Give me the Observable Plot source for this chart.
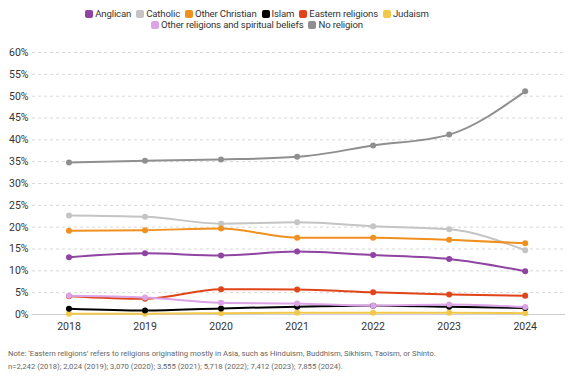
<!DOCTYPE html>
<html><head><meta charset="utf-8">
<script src="https://cdn.jsdelivr.net/npm/d3@7"></script>
<script src="https://cdn.jsdelivr.net/npm/@observablehq/plot@0.6"></script>
<style>
body{margin:0;background:#fff;font-family:Roboto,"Noto Sans",sans-serif;}
#wrap{width:574px;}
.legend{width:514px;height:34px;box-sizing:border-box;padding-top:8px;font-size:9.6px;color:#333;line-height:11px;letter-spacing:-0.15px}
.row{display:flex;justify-content:center;column-gap:5px}
.legend span{display:inline-flex;align-items:center;white-space:nowrap}
.legend i{display:inline-block;width:8px;height:8px;border-radius:2px;margin-right:2px}
.note{font-size:7.7px;color:#666;margin:6px 0 0 8px;line-height:12.5px}
</style></head>
<body><div id="wrap"><div class="legend" id="legend"><div class="row" id="row1"></div><div class="row" id="row2"></div></div><div id="chart"></div><div class="note">Note: ‘Eastern religions’ refers to religions originating mostly in Asia, such as Hinduism, Buddhism, Sikhism, Taoism, or Shinto.<br>n=2,242 (2018); 2,024 (2019); 3,070 (2020); 3,555 (2021); 5,718 (2022); 7,412 (2023); 7,855 (2024).</div></div>
<script>
const years = [2018, 2019, 2020, 2021, 2022, 2023, 2024];
const seriesNames = ["Anglican","Catholic","Other Christian","Islam","Eastern religions","Judaism","Other religions and spiritual beliefs","No religion"];
const colors = ["#8e44a0","#c4c4c4","#f0901e","#000000","#e04418","#f2c84b","#dca3e6","#8f8f8f"];
const anglican = [13.1, 14.0, 13.5, 14.4, 13.6, 12.7, 9.9];
const catholic = [22.7, 22.4, 20.8, 21.1, 20.2, 19.5, 14.7];
const otherChristian = [19.2, 19.3, 19.7, 17.6, 17.6, 17.1, 16.3];
const islam = [1.3, 0.9, 1.4, 1.8, 2.0, 1.8, 1.5];
const eastern = [4.2, 3.6, 5.8, 5.7, 5.1, 4.6, 4.3];
const judaism = [0.2, 0.2, 0.3, 0.4, 0.4, 0.4, 0.3];
const otherReligions = [4.3, 3.9, 2.7, 2.5, 2.0, 2.3, 1.7];
const noReligion = [34.8, 35.2, 35.5, 36.1, 38.7, 41.2, 51.1];
const yTicks = [0,5,10,15,20,25,30,35,40,45,50,55,60];

const valueArrays = [anglican, catholic, otherChristian, islam, eastern, judaism, otherReligions, noReligion];
const drawOrder = ["No religion","Catholic","Other Christian","Anglican","Eastern religions","Judaism","Islam","Other religions and spiritual beliefs"];
const data = [];
for (const name of drawOrder) {
  const vals = valueArrays[seriesNames.indexOf(name)];
  years.forEach((y, i) => data.push({series: name, year: y, value: vals[i]}));
}

seriesNames.forEach((n, i) => {
  const s = document.createElement("span");
  s.innerHTML = `<i style="background:${colors[i]}"></i>${n}`;
  document.getElementById(i < 6 ? "row1" : "row2").appendChild(s);
});

const chart = Plot.plot({
  width: 574, height: 308,
  marginTop: 18, marginBottom: 28, marginLeft: 32, marginRight: 9,
  style: {fontFamily: "Roboto, sans-serif", fontSize: "10.5px", color: "#333"},
  x: {domain: [2017.52, 2024.53], ticks: years, tickFormat: d => String(d), tickSize: 0, tickPadding: 8, label: null},
  y: {domain: [0, 60], ticks: yTicks, tickFormat: d => d + "%", tickSize: 0, tickPadding: 4, label: null},
  color: {domain: seriesNames, range: colors},
  marks: [
    Plot.gridY(yTicks.filter(d => d > 0), {stroke: "#d8d8d8", strokeOpacity: 1, strokeDasharray: "3,3"}),
    Plot.ruleY([0], {stroke: "#cfcfcf"}),
    Plot.line(data, {x: "year", y: "value", z: "series", stroke: "series", strokeWidth: 2, curve: "monotone-x"}),
    Plot.dot(data, {x: "year", y: "value", fill: "series", r: 3})
  ]
});
document.getElementById("chart").appendChild(chart);
</script></body></html>
